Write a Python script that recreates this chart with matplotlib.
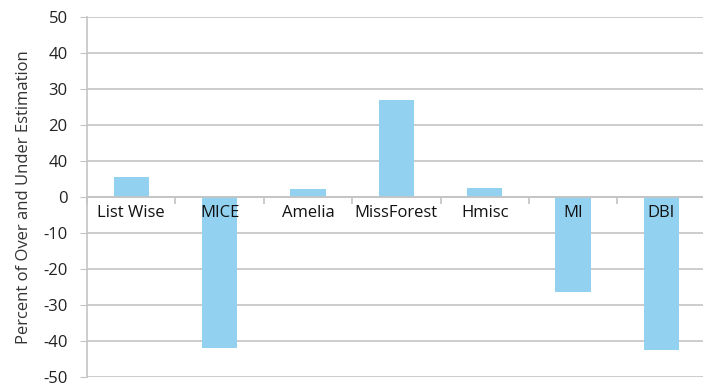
import matplotlib.pyplot as plt
import numpy as np

methods = ["List Wise", "MICE", "Amelia", "MissForest", "Hmisc", "MI", "DBI"]
values = [5.6, -42.0, 2.1, 26.9, 2.4, -26.5, -42.5]
yticks = [50, 40, 30, 20, 10, 0, -10, -20, -30, -40, -50]
ytick_labels = ["50", "40", "30", "20", "40", "0", "-10", "-20", "-30", "-40", "-50"]

plt.rcParams['font.family'] = ['Open Sans', 'DejaVu Sans']
grey = "#c4c4c4"

fig = plt.figure(figsize=(7.03, 3.87), dpi=100)
ax = fig.add_axes([0.1238, 0.027, 0.88, 0.929])

x = np.arange(len(methods))
ax.bar(x, values, width=0.4, color="#92d1f0", zorder=3)

ax.set_xlim(-0.5, len(methods) - 0.5)
ax.set_ylim(-50, 50)
ax.set_yticks(yticks)
ax.set_yticklabels(ytick_labels, fontsize=12, color="#222222")
ax.yaxis.grid(True, color=grey, linewidth=1.2, zorder=0)
ax.tick_params(axis='y', length=5, color=grey, pad=9)

# category axis sits on the zero line
ax.spines['bottom'].set_position(('data', 0))
ax.spines['bottom'].set_color(grey)
ax.spines['bottom'].set_linewidth(1.2)
ax.spines['bottom'].set_zorder(4)
ax.set_xticks(np.arange(-0.5, len(methods), 1.0))
ax.set_xticklabels([])
ax.tick_params(axis='x', length=5, color=grey, width=1.2)
for i, m in enumerate(methods):
    ax.text(i, -2.2, m, ha='center', va='top', fontsize=12, color="#111111", zorder=5)

ax.spines['left'].set_color(grey)
ax.spines['left'].set_linewidth(1.2)
ax.spines['top'].set_visible(False)
ax.spines['right'].set_visible(False)

ax.set_ylabel("Percent of Over and Under Estimation", fontsize=12, color="#333333", labelpad=8)

fig.savefig("out.png", dpi=100)
